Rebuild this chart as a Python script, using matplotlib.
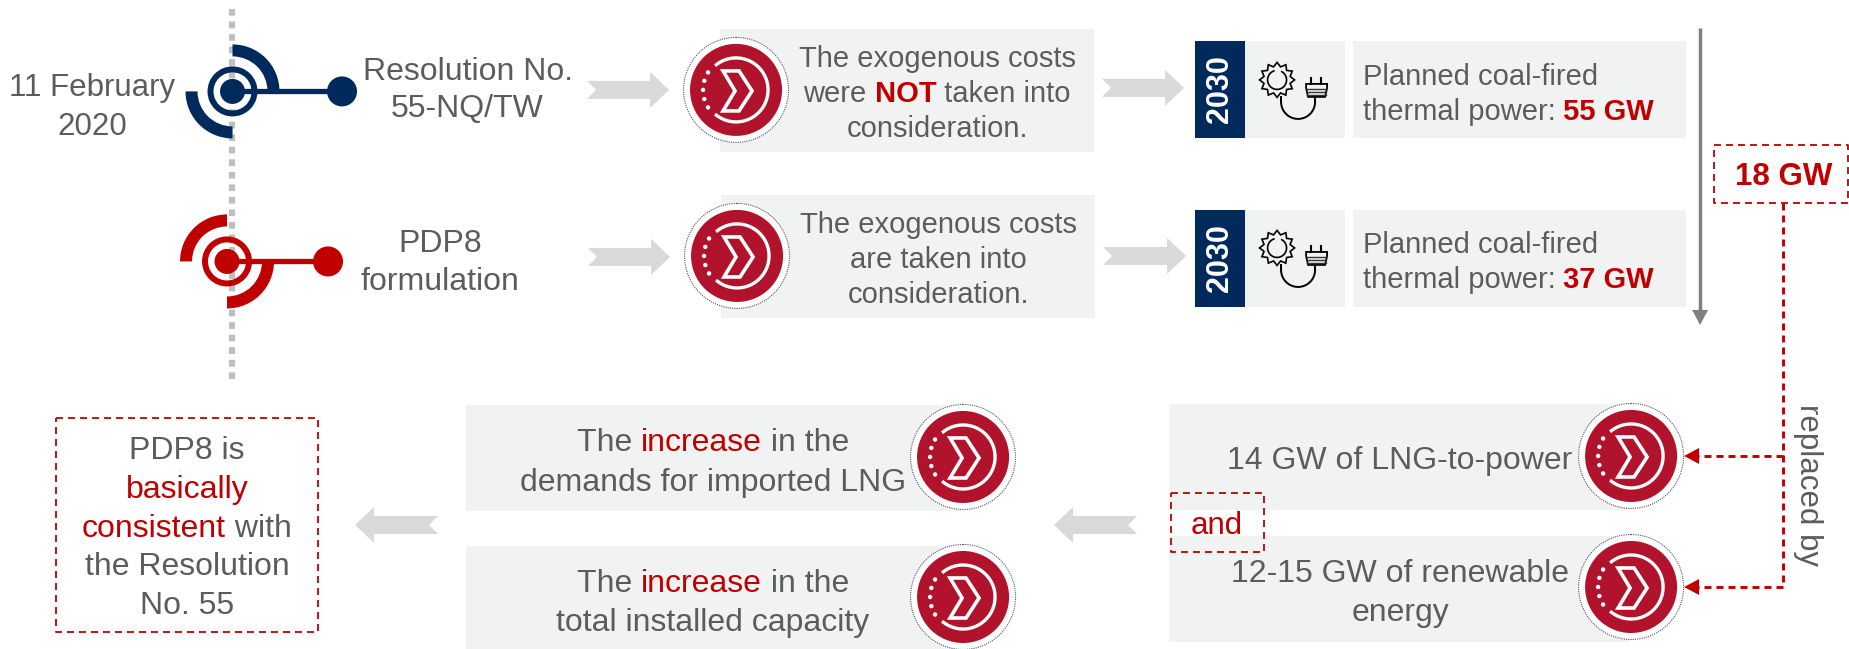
import numpy as np
import matplotlib
matplotlib.use("Agg")
import matplotlib.pyplot as plt
from matplotlib.lines import Line2D
from matplotlib.patches import Circle, Polygon, Rectangle, Wedge

plt.rcParams['font.family'] = ['Liberation Sans', 'DejaVu Sans']

# Cores
NAVY = "#002A5C"
RED = "#C00000"
BADGE = "#B0132B"
GREY_TXT = "#5C5C5C"
GREY_BOX = "#F1F3F3"
GREY_ARROW = "#D9D9D9"
R, G = RED, GREY_TXT

# Textos
date_lines = ["11 February", "2020"]
resolution_lines = ["Resolution No.", "55-NQ/TW"]
pdp8_lines = ["PDP8", "formulation"]
year_label = "2030"
cost_not = [[("The exogenous costs", G, "normal")],
            [("were ", G, "normal"), ("NOT", R, "bold"), (" taken into", G, "normal")],
            [("consideration.", G, "normal")]]
cost_yes = [[("The exogenous costs", G, "normal")],
            [("are taken into", G, "normal")],
            [("consideration.", G, "normal")]]
plan_label = "Planned coal-fired"
plan_prefix = "thermal power: "
plan_values = ["55 GW", "37 GW"]
gap_value = "18 GW"
replaced_label = "replaced by"
and_label = "and"
lng_lines = ["14 GW of LNG-to-power"]
renew_lines = ["12-15 GW of renewable", "energy"]
increase_second = ["demands for imported LNG", "total installed capacity"]
increase_first = [("The ", G, "normal"), ("increase", R, "normal"), (" in the", G, "normal")]
verdict_lines = [[("PDP8 is", G, "normal")],
                 [("basically", R, "normal")],
                 [("consistent", R, "normal"), (" with", G, "normal")],
                 [("the Resolution", G, "normal")],
                 [("No. 55", G, "normal")]]

fig = plt.figure(figsize=(18.491, 6.491), dpi=100)
ax = fig.add_axes([0, 0, 1, 1])
ax.set_xlim(0, 1849)
ax.set_ylim(649, 0)  # eixo em pixels, y para baixo
ax.axis("off")


def text_w(s, size, weight):
    t = ax.text(0, 0, "x" + s + "x", fontsize=size, fontweight=weight)
    w1 = t.get_window_extent(fig.canvas.get_renderer()).width
    t.set_text("xx")
    w2 = t.get_window_extent(fig.canvas.get_renderer()).width
    t.remove()
    return w1 - w2


def rich_line(x, y, parts, size=23, align="center"):
    """Linha com trechos de cores diferentes; y = meio visual da linha"""
    widths = [text_w(p[0], size, p[2]) for p in parts]
    left = x - sum(widths) / 2 if align == "center" else x
    for (s, col, weight), w in zip(parts, widths):
        ax.text(left, y + 10.5, s, color=col, fontsize=size, fontweight=weight,
                ha="left", va="baseline", zorder=6)
        left += w


def plain(x, ys, lines, size=23):
    for y, s in zip(ys, lines):
        rich_line(x, y, [(s, G, "normal")], size)


def box(x0, y0, x1, y1, col=GREY_BOX):
    ax.add_patch(Rectangle((x0, y0), x1 - x0, y1 - y0, fc=col, ec="none", zorder=1))


def dash(xs, ys, lw=2.1):
    # padrao em unidades de lw: mantem o mesmo passo de ~14 px
    on, off = 7.0 / (lw * 100 / 72), 5.0 / (lw * 100 / 72)
    ax.add_line(Line2D(xs, ys, color=RED, lw=lw, linestyle=(0, (on, off)),
                       dash_capstyle="butt", zorder=5))


def dash_box(x0, y0, x1, y1):
    dash([x0, x1, x1, x0, x0], [y0, y0, y1, y1, y0], lw=1.3)


def block_arrow(tail, tip, yc):
    """Seta cinza com entalhe na cauda"""
    d = 1 if tip > tail else -1
    neck = tip - d * 19
    pts = [(tail, yc - 9), (neck, yc - 9), (neck, yc - 18), (tip, yc),
           (neck, yc + 18), (neck, yc + 9), (tail, yc + 9), (tail + d * 9, yc)]
    ax.add_patch(Polygon(pts, fc=GREY_ARROW, ec="none", zorder=2))


def arc_wedge(cx, cy, r, width, a0, a1, col):
    # angulos de tela; eixo y invertido
    ax.add_patch(Wedge((cx, cy), r, 360 - a1, 360 - a0, width=width, fc=col, ec="none", zorder=4))


def target(cx, cy, ball_x, col, first):
    arc_wedge(cx, cy, 47, 12, first, first + 90, col)
    arc_wedge(cx, cy, 47, 12, first + 180, first + 270, col)
    ax.add_line(Line2D([cx, ball_x], [cy, cy], color=col, lw=3.8, zorder=4, solid_capstyle="butt"))
    ax.add_patch(Wedge((cx, cy), 25, 0, 360, width=6, fc=col, ec="none", zorder=4))
    ax.add_patch(Circle((cx, cy), 12.5, fc=col, ec="none", zorder=4))
    ax.add_patch(Circle((ball_x, cy), 15, fc=col, ec="none", zorder=4))


def badge(cx, cy):
    ax.add_patch(Circle((cx, cy), 52.5, fc="white", ec="#555555", lw=0.8, ls=(0, (1, 1)), zorder=3))
    ax.add_patch(Circle((cx, cy), 46, fc=BADGE, ec="none", zorder=3))
    t = np.radians(np.linspace(-128, 128, 60))
    ax.plot(cx + 32 * np.cos(t), cy + 32 * np.sin(t), color="white", lw=2.4, zorder=4)
    for a in [148, 164, 180, 196, 212]:
        ax.add_patch(Circle((cx + 33 * np.cos(np.radians(a)), cy + 33 * np.sin(np.radians(a))),
                            2.2, fc="white", ec="none", zorder=4))
    chev = [(-13, -19), (3, -19), (16, 1), (3, 21), (-13, 21), (-1, 1)]
    ax.add_patch(Polygon([(cx + a, cy + b) for a, b in chev], closed=True, fc="none",
                         ec="white", lw=2.6, zorder=4))


def sun_plug(dy):
    """Icone do sol com tomada"""
    cx, cy = 1277, 80 + dy
    ang = np.radians(np.arange(0, 360, 15))
    rad = np.where(np.arange(len(ang)) % 2 == 0, 17.5, 13.5)
    ax.add_patch(Polygon(np.c_[cx + rad * np.cos(ang), cy + rad * np.sin(ang)], closed=True,
                         fc="none", ec="black", lw=1.2, zorder=4))
    t = np.radians(np.linspace(-60, 250, 40))
    ax.plot(cx + 9.5 * np.cos(t), cy + 9.5 * np.sin(t), color="black", lw=1.2, zorder=4)
    # cabo
    t = np.radians(np.linspace(0, 180, 40))
    ax.plot(1298 + 17 * np.cos(t), 102 + dy + 17 * np.sin(t), color="black", lw=1.4, zorder=4)
    ax.plot([1281, 1281], [97 + dy, 102 + dy], color="black", lw=1.4, zorder=4)
    ax.plot([1315, 1315], [97 + dy, 102 + dy], color="black", lw=1.4, zorder=4)
    # tomada
    ax.add_patch(Polygon([(1306, 84 + dy), (1327, 84 + dy), (1327, 88 + dy), (1325, 97 + dy),
                          (1308, 97 + dy), (1306, 88 + dy)], closed=True, fc=GREY_BOX,
                         ec="black", lw=1.3, zorder=4))
    for yy in [89, 92, 95]:
        ax.plot([1307, 1326], [yy + dy, yy + dy], color="#333333", lw=1.0, zorder=5)
    for xx in [1311, 1321]:
        ax.plot([xx, xx], [78 + dy, 84 + dy], color="black", lw=1.5, zorder=5)


# Linha do tempo pontilhada
ax.add_line(Line2D([232, 232], [9, 380], color="#BFBFBF", lw=4.4, linestyle=(0, (1.1, 0.95)),
                   dash_capstyle="butt", zorder=1))
target(232.5, 91.5, 342, NAVY, 0)
target(227, 261.5, 328, RED, 90)

plain(92, [85, 124], date_lines, 22.5)
plain(467.5, [69, 106], resolution_lines)
plain(440, [241, 279], pdp8_lines)

# Linha superior
block_arrow(587, 669, 90)
block_arrow(588, 670, 257)
block_arrow(1102, 1184, 88)
block_arrow(1103, 1186, 256)

box(720, 29, 1094, 152)
box(721, 195, 1095, 318)
badge(736, 90)
badge(737, 256)
for y, parts in zip([56, 91, 126], cost_not):
    rich_line(937, y, parts, 21)
for y, parts in zip([222, 257, 292], cost_yes):
    rich_line(938, y, parts, 21)

# Blocos de 2030
for y0, y1, val, dy, yt in zip([41, 210], [138, 307], plan_values, [0, 168], [74, 242]):
    box(1195, y0, 1245, y1, NAVY)
    box(1245, y0, 1345, y1)
    box(1353, y0, 1686, y1)
    ax.text(1220, (y0 + y1) / 2, year_label, color="white", fontsize=22, fontweight="bold",
            rotation=90, ha="center", va="center", zorder=6)
    sun_plug(dy)
    rich_line(1362.5, yt, [(plan_label, G, "normal")], 21, "left")
    rich_line(1362.5, yt + 35, [(plan_prefix, G, "normal"), (val, R, "bold")], 21, "left")

# Seta vertical cinza
ax.add_line(Line2D([1700, 1700], [28, 312], color="#7F7F7F", lw=2.5, zorder=3, solid_capstyle="butt"))
ax.add_patch(Polygon([(1692, 310), (1708, 310), (1700, 325)], fc="#7F7F7F", ec="none", zorder=3))

# 18 GW e ligacoes tracejadas
dash_box(1714, 145, 1847.5, 203)
rich_line(1784, 174, [(gap_value, R, "bold")], 22.5)
dash([1783, 1783, 1698], [203, 587, 587])
dash([1783, 1698], [456, 456])
for y in [456, 587]:
    ax.add_patch(Polygon([(1684, y), (1699, y - 8), (1699, y + 8)], fc=RED, ec="none", zorder=5))
ax.text(1808, 485, replaced_label, color=G, fontsize=22.5, rotation=-90, ha="center", va="center", zorder=6)

# Linha inferior direita
box(1169, 404, 1630, 510)
box(1169, 536, 1630, 642)
badge(1631, 456)
badge(1631, 587)
plain(1400, [458], lng_lines)
plain(1400, [571, 610], renew_lines)
dash_box(1171, 493, 1264, 552)
rich_line(1217, 523, [(and_label, R, "normal")], 22.5)
block_arrow(1137, 1054, 525)

# Linha inferior central
box(466, 405, 961, 511)
box(466, 546, 961, 649)
badge(963, 457)
badge(963, 597)
for y in [440, 581]:
    rich_line(713, y, increase_first)
plain(713, [480, 620], increase_second)
block_arrow(438, 355, 525)

# Conclusao
dash_box(56, 418, 318, 632)
for y, parts in zip([448, 487, 526, 564, 603], verdict_lines):
    rich_line(187, y, parts)

fig.savefig("out.png", dpi=100)
